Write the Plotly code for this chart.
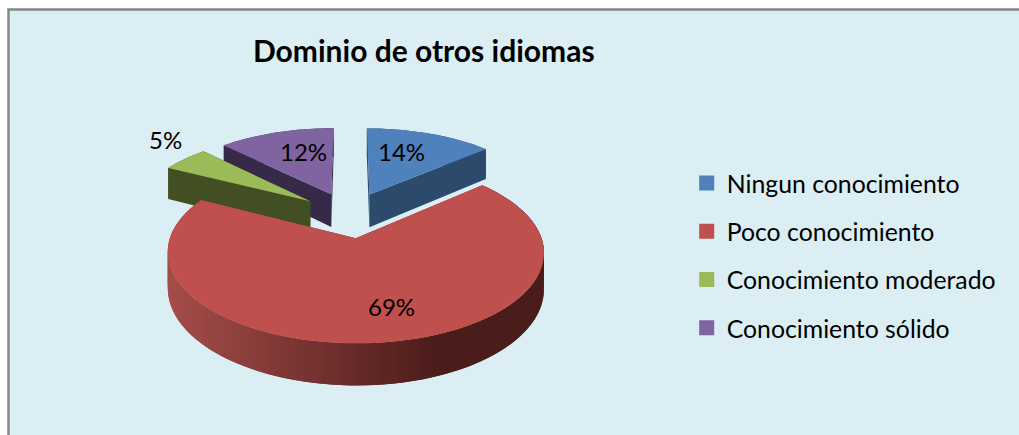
import math
import plotly.graph_objects as go

categories = ["Ningun conocimiento", "Poco conocimiento", "Conocimiento moderado", "Conocimiento sólido"]
values = [13.6, 69.0, 5.0, 12.4]
labels = ["14%", "69%", "5%", "12%"]
top_colors = ["#4F81BD", "#C0504D", "#9BBB59", "#8064A2"]
side_colors = ["#2B4A6C", "#6E2D2B", "#424F22", "#372A48"]
label_pos = [(401, 151), (391, 306), (165, 139), (303, 151)]

CX, CY, A, B, C, E, D = 349.5, 214.5, 81.5, 0.15, 178.0, 0.28, 34.0


def project(X, Y, drop=0.0):
    s = 1.0 / (1.0 - B * Y)
    return CX + C * X * s, CY + A * Y * s + drop * s


def wedge(start, end, n):
    mid = math.radians((start + end) / 2)
    ox, oy = E * math.sin(mid), -E * math.cos(mid)
    pts = []
    for i in range(n + 1):
        t = math.radians(start + (end - start) * i / n)
        pts.append((ox + math.sin(t), oy - math.cos(t)))
    return (ox, oy), pts


def poly(points, color):
    xs = [p[0] for p in points] + [points[0][0]]
    ys = [p[1] for p in points] + [points[0][1]]
    return go.Scatter(x=xs, y=ys, mode="none", fill="toself", fillcolor=color,
                      hoverinfo="skip", showlegend=False)


def rim_color(x):
    t = min(max((x - 170) / (440 - 170), 0), 1)
    c0, c1 = (165, 76, 73), (74, 28, 26)
    return "rgb(%d,%d,%d)" % tuple(round(a + (b - a) * t) for a, b in zip(c0, c1))


total = sum(values)
angles = []
acc = 0
for v in values:
    angles.append((acc / total * 360, (acc + v) / total * 360))
    acc += v

fig = go.Figure()
for idx in [3, 0, 2, 1]:
    start, end = angles[idx]
    n = max(8, int((end - start) / 1.5))
    o, rim = wedge(start, end, n)
    for corner in (rim[0], rim[-1]):
        fig.add_trace(poly([project(*o), project(*corner), project(*corner, D), project(*o, D)], side_colors[idx]))
    if idx == 1:
        # rim strips, each overlapping the next, so no seams show
        for i in range(n):
            p, q = rim[i], rim[min(i + 2, n)]
            a1, a2 = project(*p), project(*rim[i + 1])
            fig.add_trace(poly([a1, project(*q), project(*q, D), project(*p, D)], rim_color((a1[0] + a2[0]) / 2)))
    else:
        fig.add_trace(poly([project(*p) for p in rim] + [project(*p, D) for p in reversed(rim)], side_colors[idx]))
    fig.add_trace(poly([project(*o)] + [project(*p) for p in rim], top_colors[idx]))

for name, color in zip(categories, top_colors):
    fig.add_trace(go.Scatter(x=[None], y=[None], mode="markers", name=name, legendgroup=name,
                             marker=dict(symbol="square", size=15, color=color)))

annotations = [dict(x=x, y=y, text=t, showarrow=False, xref="x", yref="y",
                    font=dict(family="Lato", size=24, color="#000000"))
               for t, (x, y) in zip(labels, label_pos)]
annotations.append(dict(x=424, y=50, text="<b>Dominio de otros idiomas</b>", showarrow=False, xref="x", yref="y",
                        font=dict(family="Lato", size=30, color="#000000")))

fig.update_layout(
    width=1019, height=435, margin=dict(l=0, r=0, t=0, b=0),
    paper_bgcolor="#FFFFFF", plot_bgcolor="rgba(0,0,0,0)",
    xaxis=dict(range=[0, 1019], visible=False, fixedrange=True),
    yaxis=dict(range=[435, 0], visible=False, fixedrange=True),
    shapes=[dict(type="rect", xref="x", yref="y", x0=8.5, y0=9.5, x1=1040, y1=460, layer="below",
                 fillcolor="#DBEEF4", line=dict(color="#868686", width=2.5))],
    annotations=annotations,
    legend=dict(x=686.7 / 1019, y=1 - 160.5 / 435, xanchor="left", yanchor="top", bgcolor="rgba(0,0,0,0)",
                font=dict(family="Lato", size=24.8, color="#000000"), tracegroupgap=13, itemclick=False,
                itemdoubleclick=False),
    showlegend=True,
)
fig.write_html("out.html", config=dict(displayModeBar=False),
               post_script="document.body.style.margin='0';document.body.style.overflow='hidden';")
